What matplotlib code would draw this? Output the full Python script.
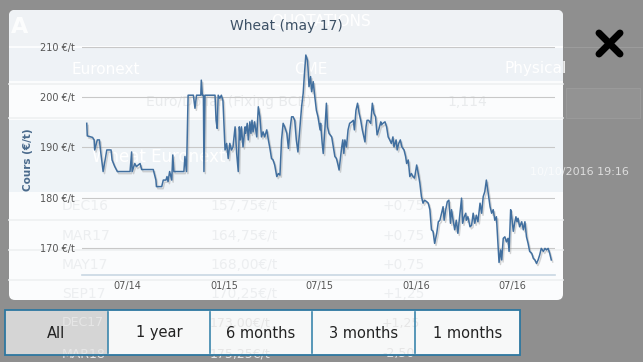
import matplotlib
matplotlib.use("Agg")
import matplotlib.pyplot as plt
import matplotlib.patheffects as pe
import matplotlib.dates as mdates
from matplotlib.patches import FancyBboxPatch, Rectangle
from matplotlib.lines import Line2D
import pandas as pd

# --- data ---
base_date = "2014-04-01"
day_offsets = [15, 16, 26, 29, 30, 35, 39, 41, 46, 53, 61, 63, 68, 73, 97, 100, 101, 106, 109, 116,
               119, 141, 146, 147, 157, 160, 165, 167, 169, 172, 176, 178, 180, 199, 201, 204, 207, 217, 220, 223,
               231, 232, 234, 236, 237, 239, 258, 260, 262, 264, 267, 270, 273, 277, 280, 283, 286, 289, 292, 296,
               299, 302, 304, 306, 308, 311, 315, 316, 319, 321, 324, 326, 328, 330, 333, 337, 340, 343, 346, 349,
               352, 356, 359, 362, 365, 368, 371, 375, 378, 381, 384, 387, 390, 394, 397, 400, 403, 406, 409, 412,
               415, 419, 422, 425, 427, 430, 433, 434, 436, 439, 441, 444, 447, 450, 453, 457, 458, 461, 463, 466,
               469, 471, 474, 479, 482, 485, 488, 491, 493, 496, 498, 500, 502, 504, 507, 510, 513, 517, 520, 522,
               525, 528, 531, 534, 537, 542, 544, 546, 549, 553, 556, 559, 562, 565, 568, 572, 573, 576, 580, 583,
               586, 589, 592, 595, 597, 601, 603, 606, 609, 612, 616, 619, 621, 624, 627, 630, 633, 636, 640, 643,
               646, 649, 652, 655, 659, 662, 665, 668, 671, 674, 678, 681, 684, 687, 690, 692, 695, 698, 701, 704,
               706, 709, 712, 715, 718, 722, 725, 727, 730, 733, 734, 737, 741, 744, 747, 750, 753, 756, 760, 763,
               766, 769, 772, 775, 779, 782, 785, 788, 791, 794, 796, 799, 801, 804, 807, 810, 813, 815, 818, 820,
               823, 826, 828, 830, 832, 835, 839, 842, 845, 848, 851, 854, 858, 861, 864, 867, 870, 873, 876, 880,
               883, 886, 889, 892, 895]
prices = [194.8, 192.3, 192.0, 191.5, 189.5, 191.5, 191.5, 189.5, 185.2, 189.5, 189.5, 187.5, 186.2, 185.2, 185.2, 189.1, 185.2, 186.8, 186.2, 186.8,
          185.6, 185.6, 183.5, 182.2, 182.2, 183.5, 183.5, 184.2, 183.2, 185.2, 183.5, 188.5, 185.2, 185.2, 188.2, 185.2, 200.4, 200.4, 197.8, 200.4,
          200.4, 203.4, 200.4, 200.4, 185.2, 200.4, 200.4, 195.4, 193.8, 200.4, 199.8, 200.4, 199.3, 189.5, 190.8, 187.8, 190.8, 189.5, 190.1, 194.1,
          188.8, 185.2, 194.1, 191.5, 194.1, 190.1, 194.1, 192.8, 194.8, 191.5, 195.1, 192.8, 195.4, 193.1, 195.1, 192.1, 198.1, 196.1, 192.1, 193.1,
          192.1, 193.5, 191.5, 189.8, 187.8, 187.5, 186.5, 184.2, 184.8, 184.5, 191.5, 194.8, 194.1, 192.8, 189.8, 193.5, 196.1, 196.1, 195.4, 191.5,
          189.1, 194.1, 198.1, 200.8, 204.1, 208.4, 207.4, 206.0, 202.1, 204.1, 201.1, 203.1, 200.1, 197.4, 196.1, 193.5, 194.8, 190.8, 188.8, 193.5,
          198.8, 194.1, 192.8, 192.1, 190.1, 188.2, 187.8, 186.5, 185.5, 188.2, 190.1, 191.5, 188.8, 191.5, 190.1, 193.5, 194.8, 195.1, 195.4, 193.5,
          197.4, 198.8, 196.8, 195.4, 193.5, 191.1, 194.1, 195.4, 195.4, 194.8, 198.8, 196.8, 196.1, 192.5, 193.5, 195.1, 194.5, 194.8, 195.1, 194.1,
          192.1, 191.5, 190.8, 192.1, 190.1, 191.5, 189.5, 190.8, 191.5, 190.1, 189.5, 188.2, 186.8, 187.5, 184.2, 184.8, 184.2, 183.9, 186.5, 184.8,
          182.9, 180.2, 178.9, 179.5, 179.2, 178.9, 177.6, 173.6, 173.3, 170.9, 172.9, 175.2, 175.5, 176.9, 178.2, 175.5, 177.6, 179.2, 179.5, 174.9,
          177.6, 175.5, 173.6, 175.5, 172.9, 176.9, 179.9, 174.9, 176.2, 176.9, 175.5, 176.2, 174.2, 174.5, 176.9, 174.9, 176.5, 175.2, 178.9, 176.9,
          180.2, 181.2, 183.5, 181.2, 178.2, 176.9, 177.6, 175.5, 176.2, 170.9, 167.1, 169.6, 167.6, 171.9, 172.2, 171.2, 171.9, 169.3, 177.6, 176.2,
          173.3, 175.2, 176.2, 175.2, 175.9, 174.2, 175.2, 173.6, 175.2, 172.2, 170.9, 169.3, 168.9, 167.9, 167.6, 166.9, 167.6, 168.6, 169.9, 169.3,
          169.9, 169.6, 169.9, 168.9, 167.6]
y_ticks = [170, 180, 190, 200, 210]
x_ticks = ["2014-07-01", "2015-01-01", "2015-07-01", "2016-01-01", "2016-07-01"]
ranges = ["All", "1 year", "6 months", "3 months", "1 months"]

# ghost text of the app page showing through the dialog
ghost_rows = [("DEC16", "157,75€/t", "+0,75", 206), ("MAR17", "164,75€/t", "+0,75", 236),
              ("MAY17", "168,00€/t", "+0,75", 265), ("SEP17", "170,25€/t", "+1,25", 294),
              ("DEC17", "173,00€/t", "+1,25", 323), ("MAR18", "175,25€/t", "-2,50", 354)]

dates = pd.Timestamp(base_date) + pd.to_timedelta(day_offsets, unit="D")

W, H = 643, 362
fig = plt.figure(figsize=(W / 100, H / 100), dpi=100)
fig.patch.set_facecolor("#8f8f8f")

# UI layer in pixel coordinates
ui = fig.add_axes([0, 0, 1, 1], zorder=0)
ui.set_xlim(0, W)
ui.set_ylim(H, 0)
ui.axis("off")

# right side of underlying page
ui.add_line(Line2D([564, 643], [47, 47], color="#9c9c9c", lw=0.8))
ui.add_patch(Rectangle((566, 88), 74, 30, facecolor="#939393", edgecolor="#9c9c9c", lw=0.6))
ui.text(20, 27, "A", color="white", fontsize=16, fontweight="bold", ha="center", va="center", alpha=0.85)

# dialog
modal = FancyBboxPatch((9, 10), 554, 290, boxstyle="round,pad=0,rounding_size=6",
                       facecolor="#fbfcfd", edgecolor="none")
ui.add_patch(modal)
for (y0, h, c) in [(10, 36, "#eff2f5"), (48, 33, "#eef2f6"), (120, 72, "#eef3f7")]:
    r = Rectangle((9, y0), 554, h, facecolor=c, edgecolor="none")
    r.set_clip_path(modal)
    ui.add_patch(r)
for y in [84, 118, 220, 250, 280]:
    ui.add_line(Line2D([9, 563], [y, y], color="#eef0f2", lw=1.2))

ghost_kw = dict(fontsize=10, va="center")
ui.text(321, 22, "QUOTATIONS", color="white", fontsize=11, ha="center", va="center")
ui.text(106, 69, "Euronext", color="white", fontsize=11, ha="center", va="center")
ui.text(311, 69, "CME", color="white", fontsize=11, ha="center", va="center")
ph = ui.text(505, 69, "Physical", color="white", fontsize=11, ha="left", va="center")
ph.set_clip_path(modal)
ui.text(146, 102, "Euro/Dollar (Fixing BCE)", color="#e9ebed", ha="left", **ghost_kw)
ui.text(467, 102, "1,114", color="#e9ebed", ha="center", **ghost_kw)
ui.text(92, 157, "Wheat Euronext", color="white", fontsize=12, ha="left", va="center")
ui.text(530, 172, "10/10/2016 19:16", color="white", fontsize=8, ha="left", va="center", alpha=0.7)
for name, price, chg, y in ghost_rows[:4]:
    for x, s in [(62, name), (210, price), (382, chg)]:
        ui.text(x, y, s, color="#eceef0", ha="left", **ghost_kw)

ui.text(286, 26, "Wheat (may 17)", color="#3d5166", fontsize=10, ha="center", va="center")
fig.text(28 / W, 1 - 160 / H, "Cours (€/t)", rotation=90, color="#4a6a8c", fontsize=7.5,
         fontweight="bold", ha="center", va="center")

# close cross
for xs, ys in [([599, 620], [33, 54]), ([599, 620], [54, 33])]:
    ui.add_line(Line2D(xs, ys, color="black", lw=5, solid_capstyle="round"))

# range selector
edges = [5, 108, 210, 312, 415, 520]
for i, lab in enumerate(ranges):
    fc = "#d5d5d5" if i == 0 else "#f7f8f8"
    ui.add_patch(Rectangle((edges[i], 310), edges[i + 1] - edges[i], 45, facecolor=fc,
                           edgecolor="none", zorder=3))
for name, price, chg, y in ghost_rows[4:]:
    for x, s in [(62, name), (210, price), (382, chg)]:
        ui.text(x, y, s, color="#e6e6e6", fontsize=9, ha="left", va="center", zorder=3.5)
for e in edges[1:-1]:
    ui.add_line(Line2D([e, e], [312, 353], color="#3b86ad", lw=1.2, zorder=4))
ui.add_patch(Rectangle((5, 310), 515, 45, facecolor="none", edgecolor="#2d77a0", lw=1.3, zorder=4))
for i, lab in enumerate(ranges):
    ui.text((edges[i] + edges[i + 1]) / 2, 333, lab, color="#222222", fontsize=10.5,
            ha="center", va="center", zorder=5)

# chart
ax = fig.add_axes([82 / W, 1 - 275 / H, 473 / W, 228 / H], zorder=2)
ax.patch.set_alpha(0)
ax.plot(dates, prices, color="#416f9f", lw=1.1,
        path_effects=[pe.SimpleLineShadow(offset=(1, -1.5), shadow_color="#888888", alpha=0.35),
                      pe.Normal()])
ax.set_xlim(pd.Timestamp("2014-04-07"), pd.Timestamp("2016-09-19"))
ax.set_ylim(164.6, 210)
ax.set_yticks(y_ticks)
ax.set_yticklabels([f"{v} €/t" for v in y_ticks])
ax.set_xticks(pd.to_datetime(x_ticks))
ax.xaxis.set_major_formatter(mdates.DateFormatter("%m/%y"))
ax.tick_params(length=0, labelsize=7, colors="#555555")
ax.tick_params(axis="y", pad=5)
ax.tick_params(axis="x", pad=4)
ax.yaxis.grid(True, color="#c8c8c8", lw=0.8)
ax.set_axisbelow(True)
for s in ["top", "left", "right"]:
    ax.spines[s].set_visible(False)
ax.spines["bottom"].set_color("#c9d7e3")
ax.spines["bottom"].set_linewidth(1.2)

fig.savefig("out.png", dpi=100)
